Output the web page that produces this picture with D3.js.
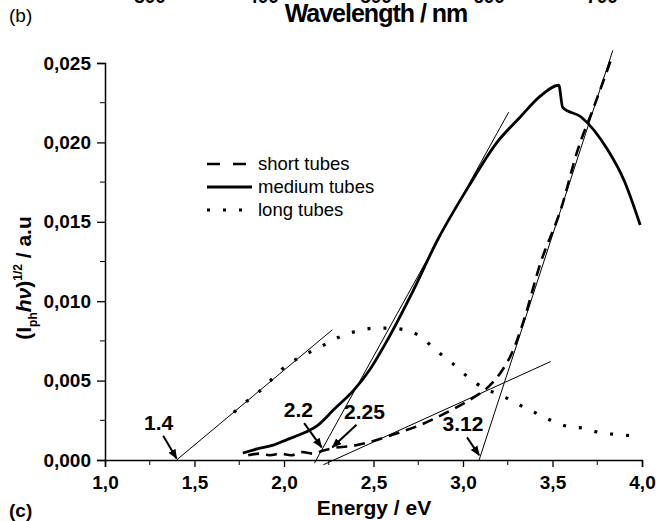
<!DOCTYPE html>
<html>
<head>
<meta charset="utf-8">
<script src="https://cdn.jsdelivr.net/npm/d3@7"></script>
<style>
  body { margin: 0; background: #fff; }
  svg { font-family: "Liberation Sans", Arial, sans-serif; }
</style>
</head>
<body>
<svg id="chart"></svg>
<script>
// values
const xTicks = [1.0, 1.5, 2.0, 2.5, 3.0, 3.5, 4.0]
const yTicks = [0, 0.005, 0.01, 0.015, 0.02, 0.025]
const topTicks = ['300', '400', '500', '600', '700']

const energyMedium = [1.77, 1.85, 1.94, 2.02, 2.09, 2.19, 2.28, 2.39, 2.48, 2.58, 2.71, 2.86, 3.03, 3.19, 3.32, 3.43, 3.535, 3.557, 3.66, 3.81, 3.90, 3.99]
const medium = [0.00044, 0.0007, 0.00094, 0.0013, 0.0016, 0.0022, 0.0032, 0.0044, 0.0057, 0.0076, 0.0104, 0.0139, 0.0172, 0.0200, 0.0216, 0.0229, 0.0236, 0.0222, 0.0216, 0.0195, 0.0176, 0.0148]

const energyShort = [1.80, 1.86, 1.92, 1.98, 2.04, 2.10, 2.16, 2.22, 2.28, 2.39, 2.50, 2.61, 2.76, 2.91, 3.04, 3.15, 3.21, 3.28, 3.34, 3.43, 3.55, 3.64, 3.73, 3.83]
const short = [0.0003, 0.0004, 0.0003, 0.0004, 0.0003, 0.0005, 0.0004, 0.0006, 0.00076, 0.0009, 0.0012, 0.0016, 0.0022, 0.003, 0.0038, 0.0047, 0.0055, 0.0069, 0.0088, 0.0123, 0.0159, 0.0195, 0.0222, 0.0253]

const energyLong = [1.72, 1.77, 1.85, 2.02, 2.11, 2.20, 2.30, 2.40, 2.51, 2.60, 2.67, 2.76, 2.85, 2.94, 3.03, 3.12, 3.21, 3.31, 3.40, 3.49, 3.59, 3.68, 3.77, 3.87, 3.97]
const long = [0.003, 0.0035, 0.0042, 0.006, 0.0066, 0.0071, 0.0077, 0.0081, 0.0083, 0.0083, 0.0082, 0.0078, 0.0069, 0.0061, 0.0052, 0.0045, 0.0041, 0.0035, 0.003, 0.0025, 0.0021, 0.002, 0.0017, 0.0016, 0.0015]

// fitted tangent lines [E1, v1, E2, v2]
const tangents = [
    [1.40, 0, 2.27, 0.0082],
    [2.17, -0.0002, 3.255, 0.0219],
    [2.22, -0.0003, 3.49, 0.0062],
    [3.09, 0, 3.837, 0.0258]
]
// onset labels: text, label E, label v, arrow tip E, tip v
const onsets = [
    ['1.4', 1.30, 0.0019, 1.40, 0.0001],
    ['2.2', 2.08, 0.0027, 2.21, 0.0008],
    ['2.25', 2.45, 0.0026, 2.27, 0.0008],
    ['3.12', 3.00, 0.0018, 3.09, 0.0003]
]
const legendNames = ['short tubes', 'medium tubes', 'long tubes']
const lineDash = ['11,7', null, '3,13']
const legendDash = ['13,13', null, '3,13']

const width = 656
const height = 521
const margin = { top: 63, right: 15, bottom: 61, left: 105 }
const innerWidth = width - margin.left - margin.right
const innerHeight = height - margin.top - margin.bottom

const svg = d3.select('#chart')
    .attr('width', width)
    .attr('height', height)

const g = svg.append('g')
    .attr('transform', `translate(${margin.left},${margin.top})`)

const xScale = d3.scaleLinear()
    .domain([1, 4])
    .range([0, innerWidth + 1])
const yScale = d3.scaleLinear()
    .domain([0, 0.025])
    .range([innerHeight, 0])

const commaFmt = f => v => d3.format(f)(v).replace('.', ',')

// x axis
const xAxis = d3.axisBottom(xScale)
    .tickValues(xTicks)
    .tickSize(7)
    .tickFormat(commaFmt('.1f'))
const gx = g.append('g')
    .attr('transform', `translate(0,${innerHeight})`)
    .call(xAxis)
gx.selectAll('text').attr('dy', '1.0em')
// minor x ticks
gx.selectAll('.minor')
    .data(d3.range(1.25, 4, 0.5))
    .enter()
    .append('line')
    .attr('x1', d => xScale(d)).attr('x2', d => xScale(d))
    .attr('y1', 0).attr('y2', 5)
    .attr('stroke', '#000')

const yAxis = d3.axisLeft(yScale)
    .tickValues(yTicks)
    .tickSize(8)
    .tickPadding(6)
    .tickFormat(commaFmt('.3f'))
const gy = g.append('g').call(yAxis)
gy.selectAll('.minor')
    .data(d3.range(0.0025, 0.025, 0.005))
    .enter()
    .append('line')
    .attr('y1', d => yScale(d)).attr('y2', d => yScale(d))
    .attr('x1', 0).attr('x2', -5)
    .attr('stroke', '#000')

g.selectAll('.domain').attr('stroke', '#000').attr('stroke-width', 1.5)
g.selectAll('.tick line').attr('stroke', '#000').attr('stroke-width', 1.3)
g.selectAll('.tick text')
    .attr('fill', '#000')
    .style('font-size', '19px')
    .style('font-weight', 'bold')

// tangent lines
g.selectAll('.tangent')
    .data(tangents)
    .enter()
    .append('line')
    .attr('x1', d => xScale(d[0])).attr('y1', d => yScale(d[1]))
    .attr('x2', d => xScale(d[2])).attr('y2', d => yScale(d[3]))
    .attr('stroke', '#000')
    .attr('stroke-width', 1)

const line = d3.line()
    .x(d => xScale(d[0]))
    .y(d => yScale(d[1]))
    .curve(d3.curveMonotoneX)

const series = [
    { vals: d3.zip(energyShort, short), dash: lineDash[0], w: 2.6 },
    { vals: d3.zip(energyMedium, medium), dash: lineDash[1], w: 2.8 },
    { vals: d3.zip(energyLong, long), dash: lineDash[2], w: 3.2 }
]
g.selectAll('.series')
    .data(series)
    .enter()
    .append('path')
    .attr('d', d => line(d.vals))
    .attr('fill', 'none')
    .attr('stroke', '#000')
    .attr('stroke-width', d => d.w)
    .attr('stroke-dasharray', d => d.dash)

// arrows
svg.append('defs').append('marker')
    .attr('id', 'head')
    .attr('viewBox', '0 0 10 10')
    .attr('refX', 9).attr('refY', 5)
    .attr('markerWidth', 5).attr('markerHeight', 5)
    .attr('orient', 'auto')
    .append('path')
    .attr('d', 'M0,1 L10,5 L0,9 z')
    .attr('fill', '#000')

const ann = g.selectAll('.onset')
    .data(onsets)
    .enter()
    .append('g')
ann.append('text')
    .attr('x', d => xScale(d[1]))
    .attr('y', d => yScale(d[2]))
    .attr('text-anchor', 'middle')
    .style('font-size', '21px')
    .style('font-weight', 'bold')
    .text(d => d[0])
ann.append('line')
    .attr('x1', d => xScale(d[1]) + (xScale(d[3]) - xScale(d[1])) * 0.25)
    .attr('y1', d => yScale(d[2]) + 6)
    .attr('x2', d => xScale(d[3]))
    .attr('y2', d => yScale(d[4]))
    .attr('stroke', '#000')
    .attr('stroke-width', 2)
    .attr('marker-end', 'url(#head)')

// legend
const legend = svg.append('g')
    .attr('transform', 'translate(207,164)')
const rows = legend.selectAll('g')
    .data(legendNames)
    .enter()
    .append('g')
    .attr('transform', (d, i) => `translate(0,${i * 23})`)
rows.append('line')
    .attr('x1', 0).attr('x2', 45)
    .attr('stroke', '#000')
    .attr('stroke-width', (d, i) => series[i].w)
    .attr('stroke-dasharray', (d, i) => legendDash[i])
rows.append('text')
    .attr('x', 51)
    .attr('dy', '0.35em')
    .style('font-size', '18.5px')
    .text(d => d)

// axis titles
svg.append('text')
    .attr('x', 374).attr('y', 515)
    .attr('text-anchor', 'middle')
    .style('font-size', '21px')
    .style('font-weight', 'bold')
    .text('Energy / eV')

const yTitle = svg.append('text')
    .attr('transform', 'translate(31,278) rotate(-90)')
    .attr('text-anchor', 'middle')
    .style('font-size', '21px')
    .style('font-weight', 'bold')
yTitle.append('tspan').text('(I')
yTitle.append('tspan').attr('dy', 6).style('font-size', '12px').text('ph')
yTitle.append('tspan').attr('dy', -6).style('font-style', 'italic').text('hν')
yTitle.append('tspan').text(')')
yTitle.append('tspan').attr('dy', -9).style('font-size', '12px').text('1/2')
yTitle.append('tspan').attr('dy', 9).text(' / a.u')

// panel letters and the cut-off top panel
svg.append('text').attr('x', 9).attr('y', 22)
    .style('font-size', '19px').text('(b)')
svg.append('text').attr('x', 9).attr('y', 517)
    .style('font-size', '19px').style('font-weight', 'bold').text('(c)')
svg.append('text')
    .attr('x', 376).attr('y', 22)
    .attr('text-anchor', 'middle')
    .style('font-size', '25px')
    .style('font-weight', 'bold')
    .style('letter-spacing', '-1px')
    .text('Wavelength / nm')
svg.selectAll('.topTick')
    .data(topTicks)
    .enter()
    .append('text')
    .attr('x', (d, i) => 150 + i * 113)
    .attr('y', 3)
    .attr('text-anchor', 'middle')
    .style('font-size', '19px')
    .style('font-weight', 'bold')
    .text(d => d)
</script>
</body>
</html>
